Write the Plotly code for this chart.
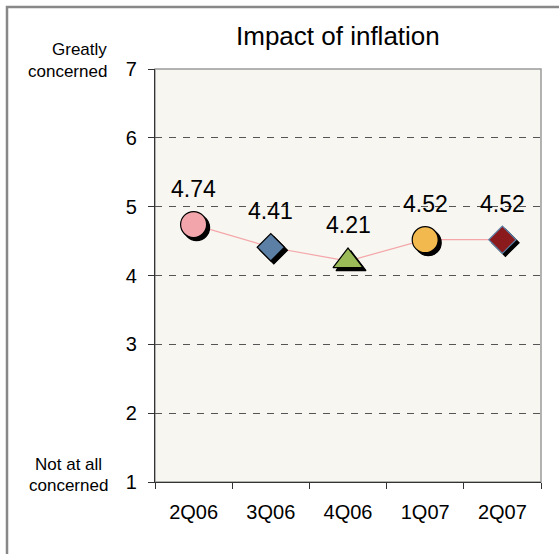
import plotly.graph_objects as go

# ---- data ----
quarters = ["2Q06", "3Q06", "4Q06", "1Q07", "2Q07"]
scores = [4.74, 4.41, 4.21, 4.52, 4.52]
score_labels = ["4.74", "4.41", "4.21", "4.52", "4.52"]
marker_symbols = ["circle", "diamond", "triangle-up", "circle", "diamond"]
marker_colors = ["#F2A6AC", "#5B7FA5", "#9BBB59", "#F2B94F", "#8B1A1D"]
marker_edges = ["#000000", "#000000", "#000000", "#000000", "#5B7FA5"]
marker_sizes = [26, 21, 26, 26, 21]
y_ticks = [1, 2, 3, 4, 5, 6, 7]
title_text = "Impact of inflation"
top_label = ["Greatly", "concerned"]
bottom_label = ["Not at all", "concerned"]

W, H = 559, 554
L, R, T, B = 155, 18, 69, 72
PW, PH = W - L - R, H - T - B
FONT = "Liberation Sans, Arial, sans-serif"

def px(x):
    return (x - L) / PW

def py(y):
    return (H - B - y) / PH

n = len(quarters)
xr = [-0.5, n - 0.5]
yr = [1, 7]
# shadow offset: 3px right / down, converted via axis scales
dx = 3 * (xr[1] - xr[0]) / PW
dy = 3 * (yr[1] - yr[0]) / PH

fig = go.Figure()

# connecting line (main axes)
fig.add_trace(go.Scatter(x=quarters, y=scores, mode="lines",
                         line=dict(color="#F4A6A8", width=1.2),
                         hoverinfo="skip", showlegend=False))
# shadows
fig.add_trace(go.Scatter(x=list(range(n)), y=scores, mode="markers",
                         xaxis="x2", yaxis="y2",
                         marker=dict(symbol=marker_symbols, size=marker_sizes, opacity=1,
                                     color="#000000", line=dict(width=1.2, color="#000000")),
                         hoverinfo="skip", showlegend=False))
# markers
fig.add_trace(go.Scatter(x=list(range(n)), y=scores, mode="markers",
                         xaxis="x3", yaxis="y3",
                         marker=dict(symbol=marker_symbols, size=marker_sizes, opacity=1,
                                     color=marker_colors,
                                     line=dict(width=1.2, color=marker_edges)),
                         showlegend=False))

annotations = []
for q, v, t in zip(quarters, scores, score_labels):
    annotations.append(dict(x=q, y=v, xref="x", yref="y", text=t, showarrow=False,
                            yshift=36, font=dict(family=FONT, size=23, color="#000000")))

annotations.append(dict(x=px(338), y=py(36), xref="paper", yref="paper", text=title_text,
                        showarrow=False, xanchor="center", yanchor="middle",
                        font=dict(family=FONT, size=26, color="#000000")))
for txt, yy in zip(top_label, [50, 71]):
    annotations.append(dict(x=px(109), y=py(yy), xref="paper", yref="paper", text=txt,
                            showarrow=False, xanchor="right", yanchor="middle",
                            font=dict(family=FONT, size=17, color="#000000")))
for txt, yy in zip(bottom_label, [464, 485]):
    annotations.append(dict(x=px(68), y=py(yy), xref="paper", yref="paper", text=txt,
                            showarrow=False, xanchor="center", yanchor="middle",
                            font=dict(family=FONT, size=17, color="#000000")))

shapes = [
    # plot-area border
    dict(type="rect", xref="paper", yref="paper", x0=0, x1=1, y0=0, y1=1,
         line=dict(color="#9A9A9A", width=1.5), layer="below"),
    # outer chart border (clipped by the window)
    dict(type="rect", xref="paper", yref="paper", x0=px(7), x1=px(W + 20),
         y0=py(H + 20), y1=py(7), line=dict(color="#888888", width=2.5), layer="below"),
]

fig.update_layout(
    width=W, height=H,
    margin=dict(l=L, r=R, t=T, b=B),
    paper_bgcolor="#FFFFFF",
    plot_bgcolor="#F7F6F1",
    annotations=annotations,
    shapes=shapes,
    showlegend=False,
    xaxis=dict(type="category", range=xr, showgrid=False, zeroline=False,
               showline=True, linecolor="#333333", linewidth=1.3,
               ticks="outside", ticklen=6, tickcolor="#333333", tickson="boundaries",
               tickfont=dict(family=FONT, size=20, color="#000000"),
               ticklabelstandoff=12),
    yaxis=dict(range=yr, tickvals=y_ticks, showgrid=True, gridcolor="#555555",
               griddash="7px,7px", gridwidth=1, zeroline=False,
               showline=True, linecolor="#333333", linewidth=1.3,
               ticks="outside", ticklen=6, tickcolor="#333333",
               tickfont=dict(family=FONT, size=20, color="#000000"),
               ticklabelstandoff=7),
    xaxis2=dict(range=[xr[0] - dx, xr[1] - dx], overlaying="x", visible=False),
    yaxis2=dict(range=[yr[0] + dy, yr[1] + dy], overlaying="y", visible=False),
    xaxis3=dict(range=xr, overlaying="x", visible=False),
    yaxis3=dict(range=yr, overlaying="y", visible=False),
)

fig.write_html("out.html")
